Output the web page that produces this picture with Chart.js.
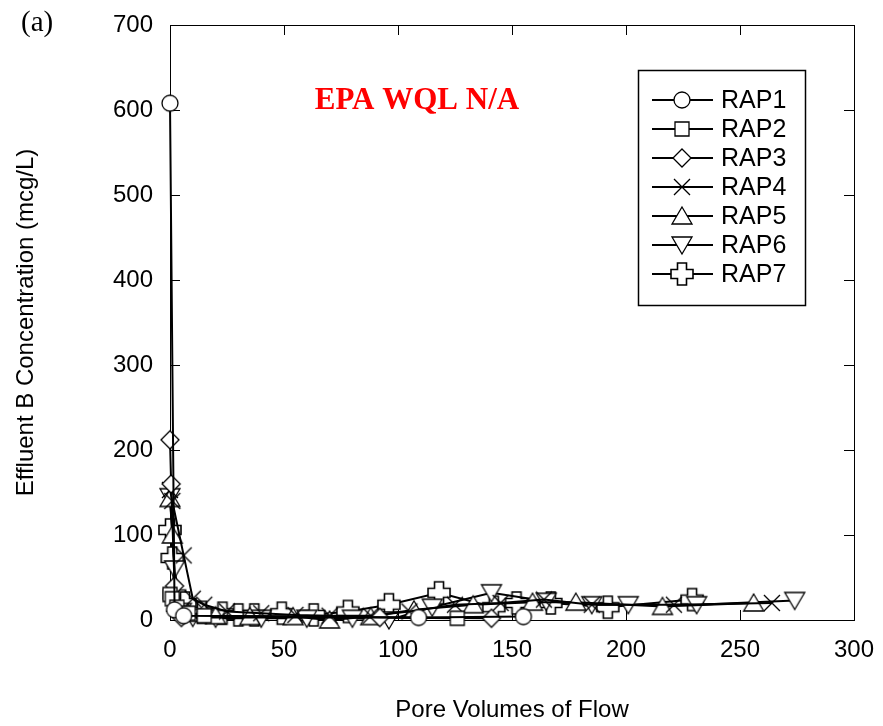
<!DOCTYPE html>
<html>
<head>
<meta charset="utf-8">
<script src="https://cdn.jsdelivr.net/npm/chart.js@4/dist/chart.umd.min.js"></script>
<style>
  html, body { margin: 0; padding: 0; background: #fff; }
  #wrap { width: 883px; height: 726px; position: relative; }
</style>
</head>
<body>
<div id="wrap"><canvas id="chart" width="883" height="726"></canvas></div>
<script>
// pore volumes (x) and effluent B (y) per column
const rap1X = [0, 2, 6, 109, 155];
const rap1Y = [608, 12, 5, 3, 4];
const rap2X = [0, 1, 3, 8, 15, 126];
const rap2Y = [30, 25, 15, 8, 5, 2];
const rap3X = [0, 0.5, 2, 5, 92, 141];
const rap3Y = [212, 160, 40, 3, 3, 2];
const rap4X = [0, 1, 6, 10, 15, 25, 40, 55, 70, 88, 105, 125, 145, 164, 185, 221, 264];
const rap4Y = [153, 140, 76, 25, 18, 10, 8, 6, 5, 5, 10, 18, 20, 24, 18, 18, 20];
const rap5X = [0, 1, 3, 8, 20, 35, 54, 70, 88, 107, 133, 159, 178, 216, 256];
const rap5Y = [143, 100, 20, 8, 5, 4, 4, 0, 4, 12, 18, 21, 21, 16, 20];
const rap6X = [0, 2, 5, 10, 20, 40, 60, 80, 96, 115, 141, 165, 185, 201, 231, 274];
const rap6Y = [145, 60, 10, 3, 2, 2, 2, 2, 0, 15, 32, 22, 18, 18, 18, 23];
const rap7X = [0, 1, 2, 6.6, 14, 23, 30, 37, 49, 63, 78, 96, 118, 142, 152, 167, 192, 229];
const rap7Y = [106, 73, 30, 20, 9, 8, 6, 6, 8, 6, 10, 18, 32, 15, 20, 20, 15, 24];

const seriesNames = ['RAP1', 'RAP2', 'RAP3', 'RAP4', 'RAP5', 'RAP6', 'RAP7'];
const seriesX = [rap1X, rap2X, rap3X, rap4X, rap5X, rap6X, rap7X];
const seriesY = [rap1Y, rap2Y, rap3Y, rap4Y, rap5Y, rap6Y, rap7Y];
const markerKinds = ['circle', 'square', 'diamond', 'x', 'up', 'down', 'plus'];

function makeMarker(kind) { // little canvas used as point style
  const s = 26, c = s / 2;
  const cv = document.createElement('canvas');
  cv.width = s; cv.height = s;
  const g = cv.getContext('2d');
  g.fillStyle = '#fff';
  g.strokeStyle = '#000';
  g.lineWidth = 1.3;
  g.beginPath();
  if (kind === 'circle') {
    g.arc(c, c, 8, 0, Math.PI * 2);
  } else if (kind === 'square') {
    g.rect(c - 7, c - 7, 14, 14);
  } else if (kind === 'diamond') {
    g.moveTo(c, c - 9); g.lineTo(c + 9, c); g.lineTo(c, c + 9); g.lineTo(c - 9, c); g.closePath();
  } else if (kind === 'x') {
    g.moveTo(c - 8, c - 8); g.lineTo(c + 8, c + 8);
    g.moveTo(c + 8, c - 8); g.lineTo(c - 8, c + 8);
    g.stroke();
    return cv;
  } else if (kind === 'up') {
    g.moveTo(c, c - 9); g.lineTo(c + 10, c + 8); g.lineTo(c - 10, c + 8); g.closePath();
  } else if (kind === 'down') {
    g.moveTo(c, c + 9); g.lineTo(c + 10, c - 8); g.lineTo(c - 10, c - 8); g.closePath();
  } else if (kind === 'plus') {
    const a = 4.5, l = 11;
    g.moveTo(c - a, c - l); g.lineTo(c + a, c - l); g.lineTo(c + a, c - a); g.lineTo(c + l, c - a);
    g.lineTo(c + l, c + a); g.lineTo(c + a, c + a); g.lineTo(c + a, c + l); g.lineTo(c - a, c + l);
    g.lineTo(c - a, c + a); g.lineTo(c - l, c + a); g.lineTo(c - l, c - a); g.lineTo(c - a, c - a);
    g.closePath();
    g.lineWidth = 1.6;
  }
  g.fill();
  g.stroke();
  return cv;
}

const markers = markerKinds.map(makeMarker);

const datasets = seriesNames.map((name, i) => ({
  label: name,
  data: seriesX[i].map((x, j) => ({ x: x, y: seriesY[i][j] })),
  showLine: true,
  borderColor: '#000',
  borderWidth: 2,
  pointStyle: markers[i],
  pointRadius: 9,
  clip: false
}));

const frameTicks = { // box with inward ticks on all four sides
  id: 'frameTicks',
  beforeDatasetsDraw(chart) {
    const ctx = chart.ctx, a = chart.chartArea;
    const xs = chart.scales.x, ys = chart.scales.y;
    ctx.save();
    ctx.strokeStyle = '#000';
    ctx.lineWidth = 1;
    ctx.strokeRect(a.left + 0.5, a.top + 0.5, a.right - a.left, a.bottom - a.top);
    ctx.beginPath();
    xs.ticks.forEach(t => {
      const px = Math.round(xs.getPixelForValue(t.value)) + 0.5;
      ctx.moveTo(px, a.bottom); ctx.lineTo(px, a.bottom - 10);
      ctx.moveTo(px, a.top); ctx.lineTo(px, a.top + 10);
    });
    ys.ticks.forEach(t => {
      const py = Math.round(ys.getPixelForValue(t.value)) + 0.5;
      ctx.moveTo(a.left, py); ctx.lineTo(a.left + 10, py);
      ctx.moveTo(a.right, py); ctx.lineTo(a.right - 10, py);
    });
    ctx.stroke();
    ctx.restore();
  },
  afterDraw(chart) {
    const ctx = chart.ctx;
    ctx.save();
    // panel letter
    ctx.fillStyle = '#000';
    ctx.font = '29px "Liberation Serif", "Times New Roman", serif';
    ctx.textBaseline = 'middle';
    ctx.textAlign = 'left';
    ctx.fillText('(a)', 21, 23);
    // red note
    ctx.fillStyle = '#ff0000';
    ctx.font = 'bold 31px "Liberation Serif", "Times New Roman", serif';
    ctx.textAlign = 'center';
    ctx.fillText('EPA WQL N/A', 417, 101);
    // legend
    ctx.strokeStyle = '#000';
    ctx.lineWidth = 1.5;
    ctx.strokeRect(638.5, 70.5, 167, 235);
    ctx.font = '25px "Liberation Sans", Arial, sans-serif';
    ctx.fillStyle = '#000';
    ctx.textAlign = 'left';
    seriesNames.forEach((name, i) => {
      const y = 100 + i * 29;
      ctx.beginPath();
      ctx.lineWidth = 2;
      ctx.moveTo(652, y); ctx.lineTo(713, y);
      ctx.stroke();
      const m = markers[i];
      ctx.drawImage(m, 682 - m.width / 2, y - m.height / 2);
      ctx.fillText(name, 721, y + 1);
    });
    ctx.restore();
  }
};

const tickFont = { family: '"Liberation Sans", Arial, sans-serif', size: 24 };
const titleFont = { family: '"Liberation Sans", Arial, sans-serif', size: 24 };

new Chart(document.getElementById('chart'), {
  type: 'scatter',
  data: { datasets: datasets },
  options: {
    responsive: false,
    animation: false,
    layout: { padding: { top: 25, right: 29, left: 0, bottom: 0 } },
    plugins: {
      legend: { display: false },
      tooltip: { enabled: false }
    },
    scales: {
      x: {
        type: 'linear',
        min: 0,
        max: 300,
        ticks: { stepSize: 50, color: '#000', font: tickFont, padding: 16, maxRotation: 0 },
        grid: { display: false, drawTicks: false },
        border: { display: false },
        title: { display: true, text: 'Pore Volumes of Flow', color: '#000', font: titleFont, padding: { top: 0, bottom: 1 } },
        afterFit(scale) {
          scale.height = 106;
          scale.paddingLeft = 0;
          scale.paddingRight = 0;
        }
      },
      y: {
        type: 'linear',
        min: 0,
        max: 700,
        ticks: { stepSize: 100, color: '#000', font: tickFont, padding: 17 },
        grid: { display: false, drawTicks: false },
        border: { display: false },
        title: { display: true, text: 'Effluent B Concentration (mcg/L)', color: '#000', font: titleFont, padding: { top: 12, bottom: 0 } },
        afterFit(scale) {
          scale.width = 170;
          scale.paddingTop = 0;
          scale.paddingBottom = 0;
        }
      }
    }
  },
  plugins: [frameTicks]
});
</script>
</body>
</html>
